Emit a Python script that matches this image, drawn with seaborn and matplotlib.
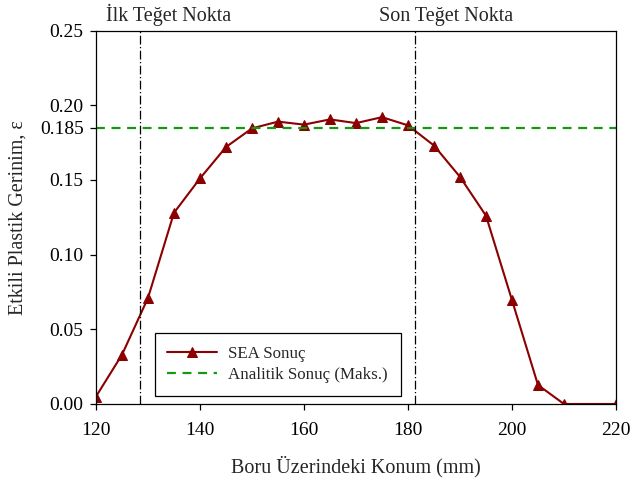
import matplotlib
matplotlib.use("Agg")
import matplotlib.pyplot as plt
import seaborn as sns
import pandas as pd

# Position along the pipe (mm) and effective plastic strain from the FE analysis
konum = [120, 125, 130, 135, 140, 145, 150, 155, 160, 165, 170, 175, 180,
         185, 190, 195, 200, 205, 210, 220]
gerinim = [0.005, 0.033, 0.071, 0.128, 0.151, 0.172, 0.1845, 0.189, 0.187,
           0.1905, 0.188, 0.192, 0.1865, 0.173, 0.152, 0.126, 0.0695, 0.0127,
           0.0, 0.0]

analitik_maks = 0.185
ilk_teget = 128.5
son_teget = 181.3

y_ticks = [0.00, 0.05, 0.10, 0.15, 0.185, 0.20, 0.25]
y_tick_labels = ["0.00", "0.05", "0.10", "0.15", "0.185", "0.20", "0.25"]
x_ticks = [120, 140, 160, 180, 200, 220]

df = pd.DataFrame({"konum": konum, "gerinim": gerinim})

sns.set_theme(style="ticks")
plt.rcParams["font.family"] = ["Liberation Serif", "DejaVu Serif"]

fig = plt.figure(figsize=(6.33, 4.84), dpi=100)
ax = fig.add_axes([96 / 633, 1 - 404 / 484, 520 / 633, 373.5 / 484])

sns.lineplot(data=df, x="konum", y="gerinim", ax=ax, color="#8B0000",
             marker="^", markersize=7, markeredgecolor="#8B0000",
             linewidth=1.5, label="SEA Sonuç")
ax.axhline(analitik_maks, color="#119911", linestyle=(0, (4, 3)),
           linewidth=1.6, label="Analitik Sonuç (Maks.)")

for xv in (ilk_teget, son_teget):
    ax.axvline(xv, color="black", linestyle=(0, (7, 2, 1, 2)), linewidth=0.9)

ax.text(ilk_teget - 6.6, 1.012, "İlk Teğet Nokta", transform=ax.get_xaxis_transform(),
        ha="left", va="bottom", fontsize=14.5)
ax.text(son_teget - 6.9, 1.012, "Son Teğet Nokta", transform=ax.get_xaxis_transform(),
        ha="left", va="bottom", fontsize=14.5)

ax.set_xlim(120, 220)
ax.set_ylim(0, 0.25)
ax.set_xticks(x_ticks)
ax.set_yticks(y_ticks)
ax.set_yticklabels(y_tick_labels)
ax.tick_params(axis="both", direction="out", length=4, width=0.9,
               labelsize=14, colors="black")
ax.tick_params(axis="x", pad=9)
ax.tick_params(axis="y", pad=5)

ax.set_xlabel("Boru Üzerindeki Konum (mm)", fontsize=14.5, labelpad=12)
ax.set_ylabel("Etkili Plastik Gerinim, ε", fontsize=14.5, labelpad=9)

for s in ax.spines.values():
    s.set_color("black")
    s.set_linewidth(0.9)

leg = ax.legend(loc="lower left", bbox_to_anchor=(0.113, 0.022), fontsize=12.2,
                frameon=True, fancybox=False, framealpha=1, edgecolor="black",
                handlelength=2.9, handletextpad=0.7, borderpad=0.75,
                labelspacing=0.3, borderaxespad=0)
leg.get_frame().set_linewidth(0.9)

fig.savefig("out.png", dpi=100)
